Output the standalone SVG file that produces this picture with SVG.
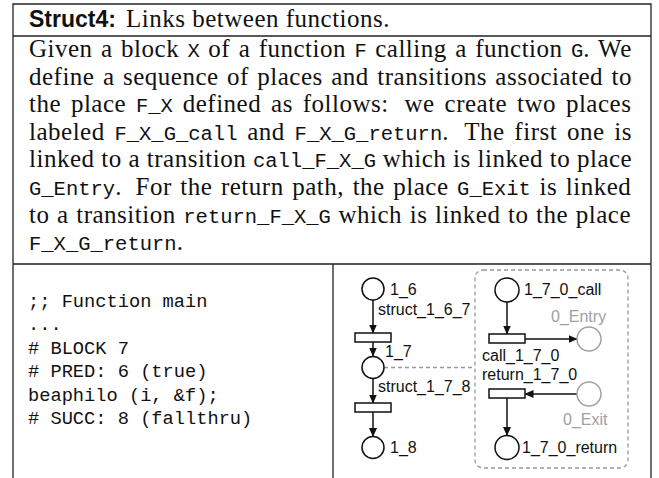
<svg xmlns="http://www.w3.org/2000/svg" width="659" height="478" viewBox="0 0 659 478">
<style>
.frame{stroke:#222;stroke-width:1.3;fill:none}
.body{font-family:"Liberation Serif","Times New Roman",serif;font-size:25px;fill:#111;letter-spacing:0.5px}
.tt{font-family:"Liberation Mono","Courier New",monospace;font-size:20.5px;letter-spacing:0}
.code{font-family:"Liberation Mono","Courier New",monospace;font-size:18.7px;fill:#111}
.lbl{font-family:"Liberation Sans",Arial,sans-serif;font-size:16px;fill:#111}
.glbl{font-family:"Liberation Sans",Arial,sans-serif;font-size:16px;fill:#a0a0a0}
.place{fill:#fff;stroke:#111;stroke-width:1.5}
.gplace{fill:#fff;stroke:#a0a0a0;stroke-width:1.5}
.trans{fill:#fff;stroke:#111;stroke-width:1.5}
.arc{stroke:#111;stroke-width:1.5;fill:none;marker-end:url(#ah)}
.dash{stroke:#999;stroke-width:1.3;fill:none;stroke-dasharray:4 3}
</style>
<defs>
<marker id="ah" markerUnits="userSpaceOnUse" markerWidth="9" markerHeight="8" refX="8.5" refY="4" orient="auto">
<path d="M0,0 L9,4 L0,8 z" fill="#111"/>
</marker>
</defs>
<rect x="0" y="0" width="659" height="478" fill="#fff"/>
<g id="frame">
<path class="frame" d="M13,478 V4 H651 V478 M13,36 H651 M13,264 H651 M333,264 V478"/>
</g>
<g id="title">
<text x="29" y="27" font-family="Liberation Sans,Arial,sans-serif" font-weight="bold" font-size="23px" fill="#111">Struct4:</text>
<text class="body" x="126" y="27">Links between functions.</text>
</g>
<g id="description" class="body">
<text x="29" y="57" style="word-spacing:1.7px">Given a block <tspan class="tt">X</tspan> of a function <tspan class="tt">F</tspan> calling a function <tspan class="tt">G</tspan>. We</text>
<text x="29" y="84.6" style="word-spacing:1.7px">define a sequence of places and transitions associated to</text>
<text x="29" y="112.2" style="word-spacing:3.1px">the place <tspan class="tt">F_X</tspan> defined as follows:<tspan dx="6"> we create two places</tspan></text>
<text x="29" y="139.8" style="word-spacing:3.0px">labeled <tspan class="tt">F_X_G_call</tspan> and <tspan class="tt">F_X_G_return</tspan>.<tspan dx="6"> The first one is</tspan></text>
<text x="29" y="167.4" style="word-spacing:0px">linked to a transition <tspan class="tt">call_F_X_G</tspan> which is linked to place</text>
<text x="29" y="195" style="word-spacing:1.85px"><tspan class="tt">G_Entry</tspan>.<tspan dx="5"> For the return path, the place </tspan><tspan class="tt">G_Exit</tspan> is linked</text>
<text x="29" y="222.6" style="word-spacing:0.85px">to a transition <tspan class="tt">return_F_X_G</tspan> which is linked to the place</text>
<text x="29" y="250.2"><tspan class="tt">F_X_G_return</tspan>.</text>
</g>
<g id="code" class="code">
<text x="28" y="306.5">;; Function main</text>
<text x="28" y="330">...</text>
<text x="28" y="353.5">#  BLOCK 7</text>
<text x="28" y="377">#  PRED: 6 (true)</text>
<text x="28" y="400.5">beaphilo (i, &amp;f);</text>
<text x="28" y="424">#  SUCC: 8 (fallthru)</text>
</g>
<g id="subnet">
<rect x="475" y="270" width="153" height="198" rx="8" fill="#f8f8f8" class="dash"/>
</g>
<g id="connectors">
<line class="arc" x1="373" y1="300" x2="373" y2="333"/>
<line class="arc" x1="373" y1="342" x2="373" y2="356"/>
<line class="arc" x1="373" y1="378.5" x2="373" y2="403"/>
<line class="arc" x1="373" y1="412" x2="373" y2="436.5"/>
<line class="dash" x1="384" y1="367.5" x2="475" y2="367.5"/>
<line class="arc" x1="507" y1="302" x2="507" y2="334"/>
<line class="arc" x1="525" y1="339" x2="577" y2="339"/>
<line class="arc" x1="577" y1="394" x2="525" y2="394"/>
<line class="arc" x1="507" y1="398" x2="507" y2="435.5"/>
</g>
<g id="p_1_6"><circle class="place" cx="373" cy="289" r="11"/><text class="lbl" x="390" y="295">1_6</text></g>
<g id="t_struct_1_6_7"><rect class="trans" x="355" y="333" width="36" height="9"/><text class="lbl" x="378" y="315">struct_1_6_7</text></g>
<g id="p_1_7"><circle class="place" cx="373" cy="367.5" r="11"/><text class="lbl" x="385" y="357">1_7</text></g>
<g id="t_struct_1_7_8"><rect class="trans" x="355" y="403" width="36" height="9"/><text class="lbl" x="378" y="392">struct_1_7_8</text></g>
<g id="p_1_8"><circle class="place" cx="373" cy="447.5" r="11"/><text class="lbl" x="390" y="453">1_8</text></g>
<g id="p_1_7_0_call"><circle class="place" cx="507" cy="290" r="12"/><text class="lbl" x="524" y="295">1_7_0_call</text></g>
<g id="t_call_1_7_0"><rect class="trans" x="489" y="334" width="36" height="9"/><text class="lbl" x="482" y="361">call_1_7_0</text></g>
<g id="p_0_Entry"><circle class="gplace" cx="589" cy="339" r="12"/><text class="glbl" x="551" y="322">0_Entry</text></g>
<g id="t_return_1_7_0"><rect class="trans" x="489" y="389" width="36" height="9"/><text class="lbl" x="482" y="380">return_1_7_0</text></g>
<g id="p_0_Exit"><circle class="gplace" cx="589" cy="394" r="12"/><text class="glbl" x="563" y="425">0_Exit</text></g>
<g id="p_1_7_0_return"><circle class="place" cx="507" cy="447.5" r="12"/><text class="lbl" x="522" y="453">1_7_0_return</text></g>
</svg>
